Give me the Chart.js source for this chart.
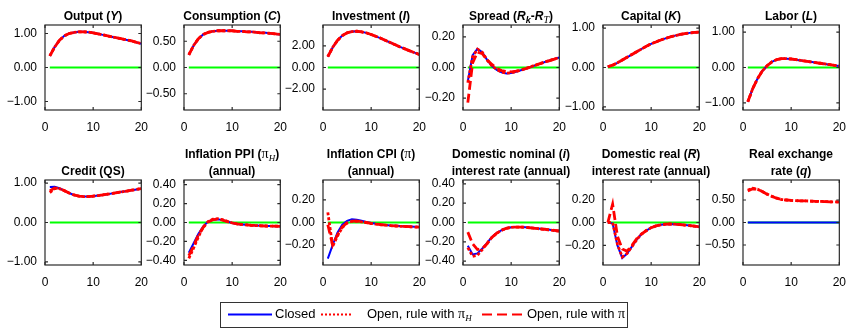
<!DOCTYPE html>
<html>
<head>
<meta charset="utf-8">
<script src="https://cdn.jsdelivr.net/npm/chart.js@4.4.0/dist/chart.umd.min.js"></script>
<style>
  body { margin: 0; background: #fff; }
  #wrap { position: relative; width: 847px; height: 329px; overflow: hidden; font-family: "Liberation Sans", Arial, sans-serif; }
  #wrap canvas { position: absolute; }
  .title { position: absolute; width: 220px; font-weight: bold; font-size: 12px; line-height: 17px; text-align: center; white-space: nowrap; color: #000; }
  .title sub, .legend sub { font-size: 9px; line-height: 0; vertical-align: -3px; }
  .m { font-family: "Liberation Serif", "DejaVu Serif", serif; font-weight: normal; font-size: 14px; }
  .legend { position: absolute; left: 220px; top: 302px; width: 406px; height: 24px; border: 1px solid #333; font-size: 13px; }
  .legend span.t { position: absolute; top: 3px; white-space: nowrap; }
  .legend svg { position: absolute; top: 0; }
</style>
</head>
<body>
<div id="wrap"></div>
<script>
// horizon (quarters)
const periods = [1,2,3,4,5,6,7,8,9,10,11,12,13,14,15,16,17,18,19,20];
const zeroLine = [0,0,0,0,0,0,0,0,0,0,0,0,0,0,0,0,0,0,0,0];

const seriesNames = ["Closed", "Open, rule with \u03c0_H", "Open, rule with \u03c0"];

// row 1 (the three cases coincide)
const output = [0.34,0.60,0.80,0.93,1.00,1.03,1.05,1.05,1.04,1.02,0.99,0.96,0.93,0.90,0.87,0.84,0.81,0.78,0.74,0.70];
const consumption = [0.24,0.42,0.55,0.63,0.67,0.69,0.70,0.70,0.70,0.70,0.69,0.69,0.68,0.68,0.67,0.66,0.66,0.65,0.64,0.63];
const investment = [1.00,1.85,2.50,2.95,3.20,3.32,3.35,3.30,3.20,3.05,2.88,2.70,2.50,2.30,2.10,1.90,1.72,1.54,1.37,1.20];
const spreadClosed = [-0.09,0.08,0.122,0.10,0.05,0.01,-0.015,-0.032,-0.039,-0.036,-0.028,-0.018,-0.008,0.003,0.014,0.025,0.036,0.046,0.056,0.065];
const spreadRuleH = [-0.10,0.07,0.12,0.10,0.05,0.012,-0.013,-0.03,-0.037,-0.035,-0.027,-0.017,-0.007,0.004,0.015,0.026,0.036,0.046,0.056,0.065];
const spreadRuleCPI = [-0.23,0.03,0.10,0.09,0.05,0.02,-0.005,-0.02,-0.026,-0.028,-0.024,-0.016,-0.007,0.003,0.014,0.025,0.035,0.045,0.055,0.064];
const capital = [0.02,0.06,0.12,0.19,0.26,0.33,0.40,0.47,0.54,0.60,0.65,0.70,0.74,0.78,0.81,0.84,0.86,0.88,0.89,0.90];
const labor = [-0.97,-0.60,-0.32,-0.10,0.05,0.16,0.22,0.25,0.25,0.24,0.22,0.20,0.18,0.16,0.14,0.12,0.10,0.08,0.06,0.04];

// row 2
const creditClosed = [0.90,0.91,0.87,0.81,0.75,0.70,0.67,0.66,0.66,0.67,0.685,0.70,0.72,0.74,0.76,0.78,0.80,0.82,0.84,0.86];
const creditRuleH = [0.76,0.86,0.86,0.81,0.75,0.70,0.67,0.66,0.66,0.67,0.685,0.70,0.72,0.74,0.76,0.78,0.80,0.82,0.84,0.86];
const creditRuleCPI = [0.80,0.88,0.86,0.81,0.75,0.70,0.67,0.66,0.66,0.67,0.685,0.70,0.72,0.74,0.76,0.78,0.80,0.82,0.84,0.86];
const ppiClosed = [-0.32,-0.22,-0.12,-0.04,0.01,0.03,0.035,0.025,0.01,-0.005,-0.015,-0.02,-0.025,-0.03,-0.032,-0.035,-0.037,-0.038,-0.039,-0.04];
const ppiRuleH = [-0.38,-0.27,-0.15,-0.05,0.01,0.035,0.04,0.03,0.012,-0.004,-0.015,-0.021,-0.026,-0.03,-0.033,-0.035,-0.037,-0.038,-0.039,-0.04];
const ppiRuleCPI = [-0.35,-0.25,-0.13,-0.05,0.005,0.03,0.035,0.025,0.01,-0.005,-0.015,-0.02,-0.025,-0.03,-0.032,-0.035,-0.037,-0.038,-0.039,-0.04];
const cpiClosed = [-0.32,-0.20,-0.09,-0.02,0.015,0.028,0.025,0.015,0.004,-0.005,-0.012,-0.018,-0.022,-0.026,-0.029,-0.032,-0.034,-0.036,-0.038,-0.04];
const cpiRuleH = [0.09,-0.21,-0.12,-0.045,-0.005,0.01,0.012,0.006,-0.002,-0.009,-0.015,-0.02,-0.024,-0.028,-0.031,-0.034,-0.036,-0.038,-0.04,-0.042];
const cpiRuleCPI = [-0.02,-0.20,-0.11,-0.04,-0.002,0.012,0.013,0.007,0.0,-0.007,-0.013,-0.019,-0.023,-0.027,-0.03,-0.033,-0.035,-0.037,-0.039,-0.041];
const nominalClosed = [-0.24,-0.33,-0.32,-0.27,-0.21,-0.15,-0.11,-0.08,-0.06,-0.05,-0.047,-0.047,-0.05,-0.055,-0.06,-0.065,-0.07,-0.076,-0.082,-0.088];
const nominalRuleH = [-0.26,-0.35,-0.34,-0.28,-0.215,-0.155,-0.112,-0.08,-0.06,-0.05,-0.047,-0.047,-0.05,-0.055,-0.06,-0.066,-0.072,-0.078,-0.084,-0.09];
const nominalRuleCPI = [-0.10,-0.22,-0.28,-0.27,-0.22,-0.155,-0.11,-0.08,-0.06,-0.05,-0.047,-0.047,-0.05,-0.055,-0.06,-0.065,-0.07,-0.076,-0.082,-0.088];
const realClosed = [0.0,-0.01,-0.20,-0.31,-0.27,-0.21,-0.15,-0.10,-0.07,-0.045,-0.03,-0.02,-0.015,-0.013,-0.015,-0.018,-0.022,-0.027,-0.032,-0.037];
const realRuleH = [0.0,0.0,-0.19,-0.30,-0.27,-0.21,-0.15,-0.10,-0.07,-0.045,-0.03,-0.02,-0.015,-0.013,-0.015,-0.018,-0.022,-0.027,-0.032,-0.037];
const realRuleCPI = [0.0,0.16,-0.12,-0.23,-0.25,-0.20,-0.14,-0.10,-0.07,-0.045,-0.03,-0.02,-0.015,-0.013,-0.015,-0.018,-0.022,-0.027,-0.032,-0.037];
const exchangeClosed = [0,0,0,0,0,0,0,0,0,0,0,0,0,0,0,0,0,0,0,0];
const exchangeRuleH = [0.72,0.76,0.74,0.69,0.63,0.58,0.54,0.51,0.50,0.49,0.485,0.48,0.48,0.475,0.47,0.47,0.465,0.46,0.46,0.455];
const exchangeRuleCPI = [0.70,0.75,0.74,0.69,0.63,0.58,0.54,0.51,0.50,0.49,0.485,0.48,0.48,0.475,0.47,0.47,0.465,0.46,0.46,0.455];

// y tick labels
const ticksOne = [-1, 0, 1];
const ticksHalf = [-0.5, 0, 0.5];
const ticksTwo = [-2, 0, 2];
const ticksPoint2 = [-0.2, 0, 0.2];
const ticksPoint4 = [-0.4, -0.2, 0, 0.2, 0.4];

const panels = [
  { title: 'Output (<i>Y</i>)', closed: output, ruleH: output, ruleCPI: output, ticks: ticksOne, lim: 1.25 },
  { title: 'Consumption (<i>C</i>)', closed: consumption, ruleH: consumption, ruleCPI: consumption, ticks: ticksHalf, lim: 0.81 },
  { title: 'Investment (<i>I</i>)', closed: investment, ruleH: investment, ruleCPI: investment, ticks: ticksTwo, lim: 3.93 },
  { title: 'Spread (<i>R<sub>k</sub></i>-<i>R</i><sub class="m" style="font-size:10px"><i>T</i></sub>)', closed: spreadClosed, ruleH: spreadRuleH, ruleCPI: spreadRuleCPI, ticks: ticksPoint2, lim: 0.278 },
  { title: 'Capital (<i>K</i>)', closed: capital, ruleH: capital, ruleCPI: capital, ticks: ticksOne, lim: 1.08 },
  { title: 'Labor (<i>L</i>)', closed: labor, ruleH: labor, ruleCPI: labor, ticks: ticksOne, lim: 1.2 },
  { title: 'Credit (QS)', closed: creditClosed, ruleH: creditRuleH, ruleCPI: creditRuleCPI, ticks: ticksOne, lim: 1.08 },
  { title: 'Inflation PPI (<span class="m">\u03c0<sub><i>H</i></sub></span>)<br>(annual)', closed: ppiClosed, ruleH: ppiRuleH, ruleCPI: ppiRuleCPI, ticks: ticksPoint4, lim: 0.45 },
  { title: 'Inflation CPI (<span class="m">\u03c0</span>)<br>(annual)', closed: cpiClosed, ruleH: cpiRuleH, ruleCPI: cpiRuleCPI, ticks: ticksPoint2, lim: 0.376 },
  { title: 'Domestic nominal (<i>i</i>)<br>interest rate (annual)', closed: nominalClosed, ruleH: nominalRuleH, ruleCPI: nominalRuleCPI, ticks: ticksPoint4, lim: 0.44 },
  { title: 'Domestic real (<i>R</i>)<br>interest rate (annual)', closed: realClosed, ruleH: realRuleH, ruleCPI: realRuleCPI, ticks: ticksPoint2, lim: 0.37 },
  { title: 'Real exchange<br>rate (<i>q</i>)', closed: exchangeClosed, ruleH: exchangeRuleH, ruleCPI: exchangeRuleCPI, ticks: ticksHalf, lim: 0.944 }
];

// layout of the plot boxes
const colLeft = [45, 184, 323, 463, 603, 743];
const rowTop = [25, 180];
const boxW = 96, boxH = 85;
const yAxisW = 44, padTop = 18, padRight = 12, xAxisH = 26;

const tickFont = { family: "'Liberation Sans', Arial, sans-serif", size: 12 };
const fmt = v => v.toFixed(2).replace('-', '\u2212');
const xy = arr => arr.map((y, i) => ({ x: periods[i], y: y }));

const framePlugin = {
  id: 'frame',
  afterDatasetsDraw(chart) {
    const { ctx, chartArea: a, scales } = chart;
    ctx.save();
    ctx.strokeStyle = '#2a2a2a';
    ctx.lineWidth = 1.2;
    ctx.strokeRect(a.left, a.top, a.right - a.left, a.bottom - a.top);
    ctx.beginPath();
    scales.x.ticks.forEach(t => {
      const px = scales.x.getPixelForValue(t.value);
      ctx.moveTo(px, a.bottom); ctx.lineTo(px, a.bottom - 3);
      ctx.moveTo(px, a.top); ctx.lineTo(px, a.top + 3);
    });
    scales.y.ticks.forEach(t => {
      const py = scales.y.getPixelForValue(t.value);
      ctx.moveTo(a.left, py); ctx.lineTo(a.left + 3, py);
      ctx.moveTo(a.right, py); ctx.lineTo(a.right - 3, py);
    });
    ctx.stroke();
    ctx.restore();
  }
};

function panelConfig(p) {
  // order: higher number is drawn underneath
  return {
    type: 'line',
    data: {
      datasets: [
        { label: 'zero', data: xy(zeroLine), borderColor: '#00ff00', borderWidth: 2, order: 4 },
        { label: seriesNames[0], data: xy(p.closed), borderColor: '#0000ff', borderWidth: 2, order: 3 },
        { label: seriesNames[2], data: xy(p.ruleCPI), borderColor: '#ff0000', borderWidth: 2.8, borderDash: [9, 4], order: 2 },
        { label: seriesNames[1], data: xy(p.ruleH), borderColor: '#ff0000', borderWidth: 2.8, borderDash: [3, 2], order: 1 }
      ]
    },
    options: {
      responsive: false,
      maintainAspectRatio: false,
      animation: false,
      layout: { padding: { top: padTop, right: padRight, left: 0, bottom: 0 } },
      plugins: { legend: { display: false }, tooltip: { enabled: false } },
      elements: { point: { radius: 0 }, line: { tension: 0 } },
      scales: {
        x: {
          type: 'linear', min: 0, max: 20,
          grid: { display: false, drawTicks: false }, border: { display: false },
          ticks: { stepSize: 10, padding: 10, color: '#000', font: tickFont, maxRotation: 0 },
          afterFit(s) { s.height = xAxisH; }
        },
        y: {
          min: -p.lim, max: p.lim,
          grid: { display: false, drawTicks: false }, border: { display: false },
          afterBuildTicks(s) { s.ticks = p.ticks.map(v => ({ value: v })); },
          ticks: { padding: 8, color: '#000', font: tickFont, callback: v => fmt(v) },
          afterFit(s) { s.width = yAxisW; }
        }
      }
    },
    plugins: [framePlugin]
  };
}

const wrap = document.getElementById('wrap');

panels.forEach((p, i) => {
  const left = colLeft[i % 6];
  const top = rowTop[Math.floor(i / 6)];

  const canvas = document.createElement('canvas');
  canvas.width = yAxisW + boxW + padRight;
  canvas.height = padTop + boxH + xAxisH;
  wrap.appendChild(canvas);

  let chart = new Chart(canvas, panelConfig(p));
  // grow the canvas so the plot box gets the wanted size, then redraw
  let a = chart.chartArea;
  const dw = boxW - (a.right - a.left);
  const dh = boxH - (a.bottom - a.top);
  if (Math.abs(dw) > 0.5 || Math.abs(dh) > 0.5) {
    const w = Math.round(canvas.width + dw), h = Math.round(canvas.height + dh);
    chart.destroy();
    canvas.width = w; canvas.height = h;
    canvas.style.width = w + 'px'; canvas.style.height = h + 'px';
    chart = new Chart(canvas, panelConfig(p));
    a = chart.chartArea;
  }
  canvas.style.left = (left - a.left) + 'px';
  canvas.style.top = (top - a.top) + 'px';

  const t = document.createElement('div');
  t.className = 'title';
  t.innerHTML = p.title;
  t.style.left = (left + boxW / 2 - 110) + 'px';
  t.style.bottom = (329 - top) + 'px';
  wrap.appendChild(t);
});

// legend
const legendStyle = [
  { color: '#0000ff', width: 2, dash: '', x: 7, w: 44, tx: 54 },
  { color: '#ff0000', width: 2, dash: '2 2', x: 100, w: 32, tx: 146 },
  { color: '#ff0000', width: 2, dash: '10 5', x: 261, w: 42, tx: 306 }
];
const legendText = [
  seriesNames[0],
  'Open, rule with <span class="m">\u03c0<sub><i>H</i></sub></span>',
  'Open, rule with <span class="m">\u03c0</span>'
];
const leg = document.createElement('div');
leg.className = 'legend';
legendStyle.forEach((s, i) => {
  const svg = '<svg width="' + s.w + '" height="24" style="left:' + s.x + 'px"><line x1="0" y1="11.5" x2="' + s.w + '" y2="11.5" stroke="' + s.color + '" stroke-width="' + s.width + '"' + (s.dash ? ' stroke-dasharray="' + s.dash + '"' : '') + '/></svg>';
  leg.insertAdjacentHTML('beforeend', svg + '<span class="t" style="left:' + s.tx + 'px">' + legendText[i] + '</span>');
});
wrap.appendChild(leg);
</script>
</body>
</html>
